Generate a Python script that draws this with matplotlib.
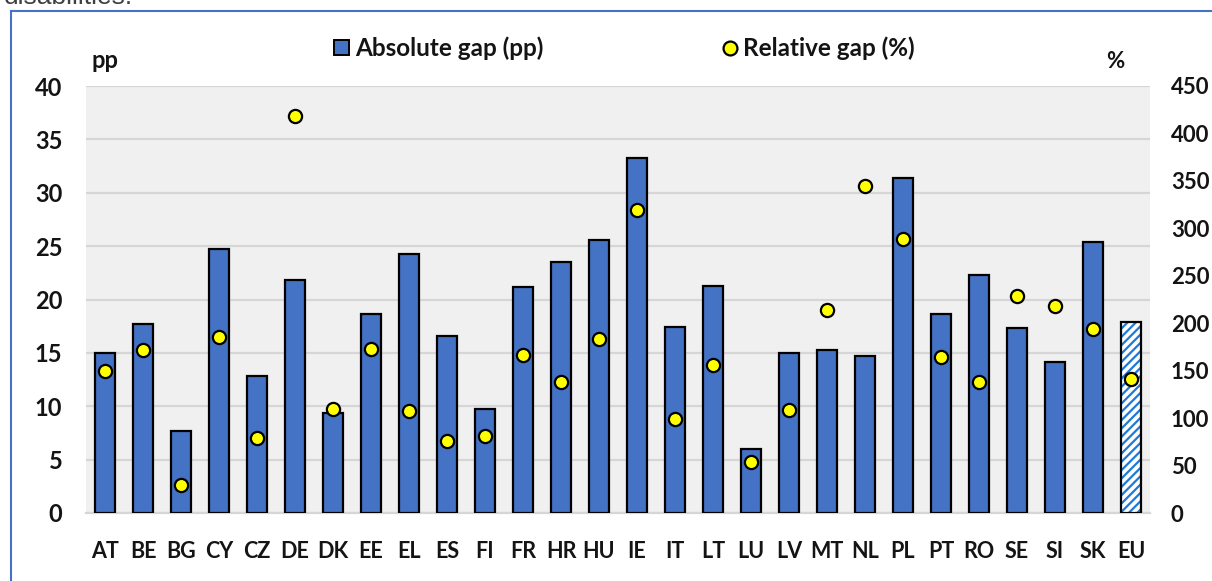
import matplotlib
matplotlib.use("Agg")
import matplotlib.pyplot as plt
from matplotlib.patches import Rectangle
from matplotlib.lines import Line2D
import numpy as np

countries = ['AT', 'BE', 'BG', 'CY', 'CZ', 'DE', 'DK', 'EE', 'EL', 'ES', 'FI', 'FR', 'HR', 'HU',
             'IE', 'IT', 'LT', 'LU', 'LV', 'MT', 'NL', 'PL', 'PT', 'RO', 'SE', 'SI', 'SK', 'EU']
absolute_gap = [15.0, 17.7, 7.7, 24.7, 12.8, 21.8, 9.4, 18.6, 24.3, 16.6, 9.7, 21.2, 23.5, 25.6,
                33.3, 17.4, 21.3, 6.0, 15.0, 15.3, 14.7, 31.4, 18.6, 22.3, 17.3, 14.1, 25.4, 17.9]
relative_gap = [150, 172, 30, 185, 79, 418, 110, 173, 107, 76, 81, 167, 138, 183,
                319, 99, 156, 54, 109, 214, 345, 289, 164, 138, 229, 218, 194, 141]
left_ticks = [0, 5, 10, 15, 20, 25, 30, 35, 40]
right_ticks = [0, 50, 100, 150, 200, 250, 300, 350, 400, 450]
legend_labels = ['Absolute gap (pp)', 'Relative gap (%)']

plt.rcParams['font.family'] = ['Lato', 'DejaVu Sans']
plt.rcParams['hatch.linewidth'] = 1.6

W, H = 1212, 581
fig = plt.figure(figsize=(W / 100, H / 100), dpi=100)

def fx(px):
    return px / W

def fy(py):
    return 1 - py / H

TXT = '#141414'
ax = fig.add_axes([fx(86), 68 / H, 1064 / W, 427 / H])
ax.set_facecolor('#F0F0F0')
x = np.arange(len(countries))
bw = 0.51
ax.bar(x[:-1], absolute_gap[:-1], width=bw, color='#4472C4', edgecolor='black',
       linewidth=1.6, zorder=3)
ax.bar(x[-1:], absolute_gap[-1:], width=bw, color='white', edgecolor='#1E7AD6',
       hatch='////', linewidth=0, zorder=3)
ax.bar(x[-1:], absolute_gap[-1:], width=bw, fill=False, edgecolor='black',
       linewidth=1.6, zorder=4)

ax.set_xlim(-0.5, len(countries) - 0.5)
ax.set_ylim(0, 40)
ax.set_yticks(left_ticks)
ax.set_xticks(x)
ax.set_xticklabels(countries)
ax.grid(axis='y', color='#D6D6D6', linewidth=1.6)
ax.set_axisbelow(True)
ax.axhline(0, color='#D6D6D6', linewidth=1.6, zorder=2, clip_on=False)
for s in ax.spines.values():
    s.set_visible(False)
ax.tick_params(axis='y', length=0, pad=17, labelsize=17)
ax.tick_params(axis='x', length=0, pad=20, labelsize=15.5)
for lab in ax.get_yticklabels() + ax.get_xticklabels():
    lab.set_fontweight('bold')
    lab.set_color(TXT)

ax2 = ax.twinx()
ax2.plot(x, relative_gap, linestyle='none', marker='o', markersize=9.5,
         markerfacecolor='#FFFF00', markeredgecolor='black', markeredgewidth=1.6, zorder=5)
ax2.set_ylim(0, 450)
ax2.set_yticks(right_ticks)
for s in ax2.spines.values():
    s.set_visible(False)
ax2.tick_params(axis='y', length=0, pad=15, labelsize=16)
for lab in ax2.get_yticklabels():
    lab.set_fontweight('bold')
    lab.set_color(TXT)

# axis unit labels
fig.text(fx(91), fy(61), 'pp', ha='left', va='center', fontsize=17, fontweight='bold', color=TXT)
fig.text(fx(1115), fy(61), '%', ha='center', va='center', fontsize=16, fontweight='bold', color=TXT)

# legend (manual)
fig.add_artist(Rectangle((fx(334), fy(55)), 15 / W, 15 / H, facecolor='#4472C4',
                         edgecolor='black', linewidth=1.4, transform=fig.transFigure))
fig.text(fx(355), fy(48), legend_labels[0], ha='left', va='center', fontsize=17.5,
         fontweight='bold', color=TXT)
fig.add_artist(Line2D([fx(730)], [fy(48)], marker='o', markersize=10, markerfacecolor='#FFFF00',
                      markeredgecolor='black', markeredgewidth=1.6, transform=fig.transFigure))
fig.text(fx(743), fy(48), legend_labels[1], ha='left', va='center', fontsize=17.5,
         fontweight='bold', color=TXT)

# frame border (left and top)
fig.add_artist(Line2D([fx(11), fx(11)], [fy(11), 0], color='#4472C4', linewidth=1.5,
                      transform=fig.transFigure))
fig.add_artist(Line2D([fx(11), 1], [fy(11), fy(11)], color='#4472C4', linewidth=1.5,
                      transform=fig.transFigure))

# cut-off caption text above the chart
fig.text(fx(4), fy(4), 'disabilities.', ha='left', va='baseline', fontsize=19,
         family=['Liberation Sans', 'DejaVu Sans'], color='#404040')

fig.savefig('out.png', dpi=100)
